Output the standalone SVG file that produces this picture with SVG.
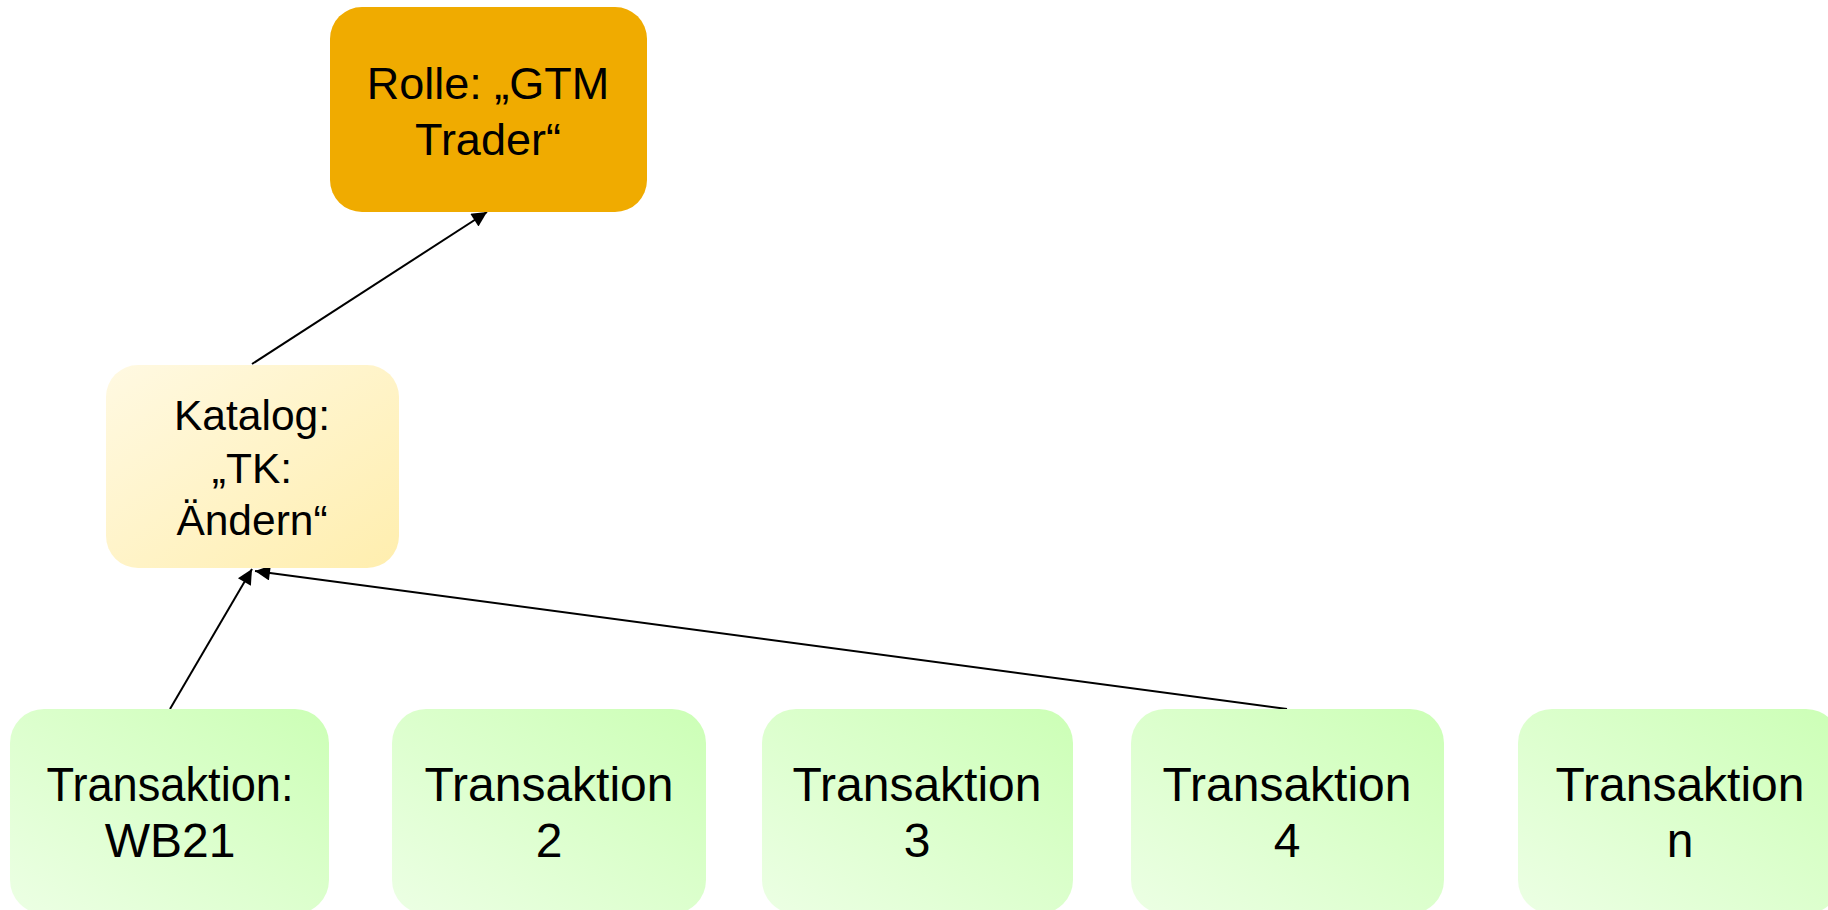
<svg xmlns="http://www.w3.org/2000/svg" width="1828" height="910" viewBox="0 0 1828 910">
<style>
text{font-family:"Liberation Sans",Arial,sans-serif;font-size:48px;fill:#000;text-anchor:middle}
.role text{font-size:45px}
.cat text{font-size:42.5px}
.con{stroke:#000;stroke-width:2;fill:none;marker-end:url(#ah)}
</style>
<defs>
<linearGradient id="gGreen" x1="0" y1="1" x2="1" y2="0">
<stop offset="0" stop-color="#ECFFE4"/>
<stop offset="1" stop-color="#CCFFB6"/>
</linearGradient>
<linearGradient id="gCream" x1="0" y1="0" x2="1" y2="1">
<stop offset="0" stop-color="#FFF9E2"/>
<stop offset="1" stop-color="#FFEEAE"/>
</linearGradient>
<marker id="ah" viewBox="0 0 10 10" refX="10" refY="5" markerWidth="9" markerHeight="7.5" markerUnits="strokeWidth" orient="auto">
<path d="M0,0 L10,5 L0,10 z" fill="#000"/>
</marker>
</defs>
<rect width="1828" height="910" fill="#fff"/>
<g id="connectors">
<line class="con" x1="252" y1="364" x2="487" y2="212"/>
<line class="con" x1="170" y1="709" x2="252" y2="569"/>
<line class="con" x1="1287" y1="709" x2="255" y2="571"/>
</g>
<g id="rolle" class="role">
<rect x="330" y="7" width="317" height="205" rx="32" fill="#F0AB00"/>
<text x="488" y="99">Rolle: „GTM</text>
<text x="488" y="155">Trader“</text>
</g>
<g id="katalog" class="cat">
<rect x="106" y="365" width="293" height="203" rx="32" fill="url(#gCream)"/>
<text x="252" y="430">Katalog:</text>
<text x="252" y="483">„TK:</text>
<text x="252" y="535">Ändern“</text>
</g>
<g id="t1">
<rect x="10" y="709" width="319" height="205" rx="34" fill="url(#gGreen)"/>
<text x="170" y="801" textLength="247" lengthAdjust="spacingAndGlyphs">Transaktion:</text>
<text x="170" y="857">WB21</text>
</g>
<g id="t2">
<rect x="392" y="709" width="314" height="205" rx="34" fill="url(#gGreen)"/>
<text x="549" y="801">Transaktion</text>
<text x="549" y="857">2</text>
</g>
<g id="t3">
<rect x="762" y="709" width="311" height="205" rx="34" fill="url(#gGreen)"/>
<text x="917" y="801">Transaktion</text>
<text x="917" y="857">3</text>
</g>
<g id="t4">
<rect x="1131" y="709" width="313" height="205" rx="34" fill="url(#gGreen)"/>
<text x="1287" y="801">Transaktion</text>
<text x="1287" y="857">4</text>
</g>
<g id="tn">
<rect x="1518" y="709" width="322" height="205" rx="34" fill="url(#gGreen)"/>
<text x="1680" y="801">Transaktion</text>
<text x="1680" y="857">n</text>
</g>
</svg>
